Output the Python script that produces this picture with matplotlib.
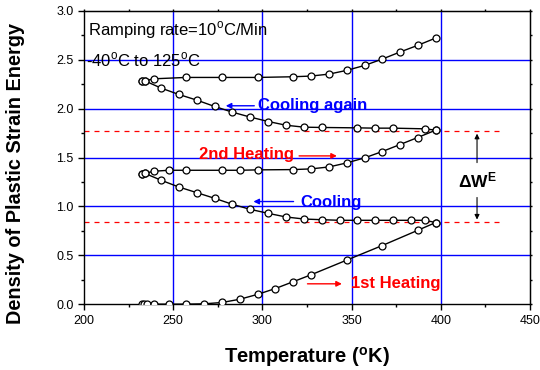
import numpy as np
import matplotlib
matplotlib.use('Agg')
import matplotlib.pyplot as plt

# temperatures (K) and strain energy density
heat1_T = [232.3, 233.6, 235.5, 239.2, 247.5, 257.2, 267.3, 277.4, 287.3, 297.3,
           307.3, 317.3, 327.2, 347.2, 367.2, 387.0, 397.1]
heat1_W = [0.0, 0.0, 0.0, 0.0, 0.0, 0.0, 0.003, 0.017, 0.05, 0.10,
           0.16, 0.23, 0.30, 0.45, 0.60, 0.755, 0.835]

cool1_T = [397.1, 391.3, 383.1, 373.2, 363.3, 353.2, 343.3, 333.4, 323.3, 313.2,
           303.3, 293.2, 283.1, 273.2, 263.2, 253.1, 243.2, 234.0, 232.7]
cool1_W = [0.835, 0.858, 0.858, 0.858, 0.858, 0.858, 0.858, 0.864, 0.871, 0.892,
           0.929, 0.970, 1.022, 1.083, 1.141, 1.199, 1.268, 1.339, 1.333]

heat2_T = [232.7, 234.0, 239.2, 247.5, 257.2, 277.4, 287.3, 297.3, 317.3, 327.2,
           337.3, 347.2, 357.3, 367.2, 377.1, 387.0, 397.1]
heat2_W = [1.333, 1.339, 1.360, 1.370, 1.370, 1.370, 1.370, 1.374, 1.377, 1.384,
           1.404, 1.445, 1.497, 1.562, 1.633, 1.705, 1.780]

cool2_T = [397.1, 391.3, 373.2, 363.3, 353.2, 333.4, 323.3, 313.2, 303.3, 293.2,
           283.1, 273.2, 263.2, 253.1, 243.2, 234.0, 232.3]
cool2_W = [1.780, 1.794, 1.801, 1.801, 1.804, 1.808, 1.811, 1.831, 1.869, 1.914,
           1.965, 2.023, 2.088, 2.146, 2.211, 2.286, 2.283]

heat3_T = [232.3, 234.0, 239.2, 257.2, 277.4, 297.3, 317.3, 327.2, 337.3, 347.2,
           357.3, 367.2, 377.1, 387.0, 397.1]
heat3_W = [2.283, 2.286, 2.306, 2.320, 2.320, 2.320, 2.327, 2.334, 2.354, 2.392,
           2.443, 2.508, 2.580, 2.648, 2.723]

# levels of the two red dashed reference lines
dW_levels = [0.837, 1.773]

plt.rcParams['font.family'] = ['Liberation Sans', 'DejaVu Sans']
plt.rcParams['mathtext.fontset'] = 'custom'
plt.rcParams['mathtext.rm'] = 'Liberation Sans'
plt.rcParams['mathtext.bf'] = 'Liberation Sans:bold'

fig = plt.figure(figsize=(5.4, 3.7), dpi=100)
ax = fig.add_axes([0.1556, 0.178, 0.8259, 0.7923])

# blue grid
for gx in [250, 300, 350, 400]:
    ax.axvline(gx, color='#0000ff', lw=1, zorder=1)
for gy in [0.5, 1.0, 1.5, 2.0, 2.5]:
    ax.axhline(gy, color='#0000ff', lw=1, zorder=1)

for lv in dW_levels:
    ax.plot([200, 435], [lv, lv], color='red', lw=0.9, ls=(0, (4, 4)), zorder=2)

for T, W in [(heat1_T, heat1_W), (cool1_T, cool1_W), (heat2_T, heat2_W),
             (cool2_T, cool2_W), (heat3_T, heat3_W)]:
    ax.plot(T, W, '-o', color='k', lw=1, ms=5, mfc='white', mec='k', mew=0.9, zorder=3)

ax.set_xlim(200, 450)
ax.set_ylim(0, 3.0)
xmaj = np.arange(200, 451, 50)
xmin = np.arange(225, 450, 50)
ymaj = np.arange(0, 3.01, 0.5)
ymin = np.arange(0.25, 3.0, 0.5)
ax.set_xticks(xmaj)
ax.set_xticks(xmin, minor=True)
ax.set_yticks(ymaj)
ax.set_yticks(ymin, minor=True)
ax.yaxis.set_major_formatter(matplotlib.ticker.FormatStrFormatter('%.1f'))
ax.tick_params(which='both', direction='out', labelsize=9, width=1)
ax.tick_params(which='major', length=4)
ax.tick_params(which='minor', length=2.5)
for sp in ax.spines.values():
    sp.set_linewidth(1)

# short mirrored ticks on top and right
top = ax.secondary_xaxis('top')
top.set_xticks(np.concatenate([xmaj, xmin]))
top.tick_params(length=1.5, width=1, labeltop=False)
right = ax.secondary_yaxis('right')
right.set_yticks(np.concatenate([ymaj, ymin]))
right.tick_params(length=1.5, width=1, labelright=False)

ax.set_xlabel(r'Temperature ($^{\mathbf{o}}$K)', fontsize=14.5, fontweight='bold')
ax.set_ylabel('Density of Plastic Strain Energy', fontsize=14.3, fontweight='bold')
ax.xaxis.set_label_coords(0.5, -0.14)
ax.yaxis.set_label_coords(-0.132, 0.447)

ax.text(202, 2.80, r'Ramping rate=10$^{\mathrm{o}}$C/Min', fontsize=12, va='center')
ax.text(201, 2.50, r'-40$^{\mathrm{o}}$C to 125$^{\mathrm{o}}$C', fontsize=12, va='center')

ax.text(297.7, 2.03, 'Cooling again', color='#0000ff', fontsize=12, fontweight='bold', va='center')
ax.annotate('', xy=(277.9, 2.03), xytext=(297, 2.03),
            arrowprops=dict(arrowstyle='-|>', color='#0000ff', lw=1, mutation_scale=8))
ax.text(264.3, 1.53, '2nd Heating', color='red', fontsize=12, fontweight='bold', va='center')
ax.annotate('', xy=(343.3, 1.517), xytext=(319, 1.517),
            arrowprops=dict(arrowstyle='-|>', color='red', lw=1, mutation_scale=8))
ax.text(321.5, 1.04, 'Cooling', color='#0000ff', fontsize=12, fontweight='bold', va='center')
ax.annotate('', xy=(293.4, 1.05), xytext=(319, 1.05),
            arrowprops=dict(arrowstyle='-|>', color='#0000ff', lw=1, mutation_scale=8))
ax.text(349.5, 0.215, '1st Heating', color='red', fontsize=12, fontweight='bold', va='center')
ax.annotate('', xy=(346.1, 0.208), xytext=(323.7, 0.208),
            arrowprops=dict(arrowstyle='-|>', color='red', lw=1, mutation_scale=8))

# delta W arrows
ax.annotate('', xy=(420.3, dW_levels[1]), xytext=(420.3, 1.42),
            arrowprops=dict(arrowstyle='-|>', color='k', lw=0.8, mutation_scale=7))
ax.annotate('', xy=(420.3, dW_levels[0]), xytext=(420.3, 1.12),
            arrowprops=dict(arrowstyle='-|>', color='k', lw=0.8, mutation_scale=7))
ax.text(420.3, 1.27, r'$\mathbf{\Delta W^{E}}$', fontsize=12.5, ha='center', va='center')

fig.savefig('out.png', dpi=100)
